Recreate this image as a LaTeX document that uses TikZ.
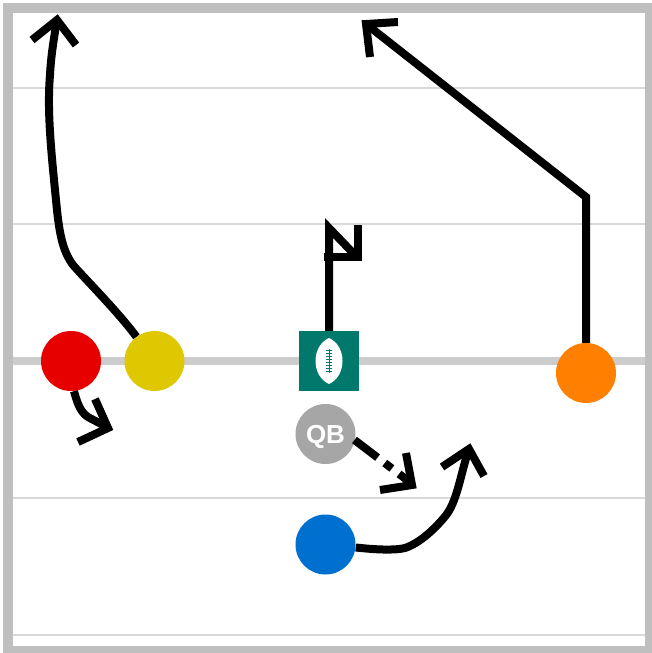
\documentclass[tikz,border=0pt]{standalone}
\usepackage{fontspec}
\setmainfont{Liberation Sans}
\definecolor{frameg}{HTML}{BFBFBF}
\definecolor{yardg}{HTML}{D9D9D9}
\definecolor{scrimg}{HTML}{CCCCCC}
\definecolor{teamteal}{HTML}{00786B}
\definecolor{qbgray}{HTML}{A6A6A6}
\definecolor{pred}{HTML}{E60000}
\definecolor{pyellow}{HTML}{E0C800}
\definecolor{porange}{HTML}{FF7F00}
\definecolor{pblue}{HTML}{0070D0}
\tikzset{
  player/.style={circle,minimum size=60pt,inner sep=0pt,fill=#1},
  route/.style={draw=black,line width=8pt,line join=miter,line cap=butt},
  head/.style={draw=black,line width=8pt,line join=miter,line cap=butt},
  yardline/.style={draw=yardg,line width=1.5pt},
}
\begin{document}
\begin{tikzpicture}[x=1pt,y=-1pt]
\useasboundingbox (0,0) rectangle (651,653);
\fill[white] (0,0) rectangle (651,653);
% yard lines
\foreach \yy in {88,224,498,635}{\draw[yardline] (10,\yy) -- (648,\yy);}
\draw[scrimg,line width=8pt] (10,361) -- (648,361);
% frame
\draw[frameg,line width=10pt] (8,8) rectangle (650,651);
% routes need to sit under the players
\node[player=pred] (red) at (71,361) {};
\node[player=pyellow] (yellow) at (154.5,361) {};
\node[player=porange] (orange) at (586,373) {};
\node[player=qbgray,font=\bfseries\fontsize{26}{26}\selectfont,text=white,text depth=0pt] (qb) at (325.5,434) {QB};
\node[player=pblue] (blue) at (325.5,544.5) {};
\node[minimum size=60pt,inner sep=0pt,fill=teamteal] (ball) at (329,361) {};
% football
\fill[white] (329,338) .. controls (347,346) and (347,376) .. (329,384) .. controls (311,376) and (311,346) .. (329,338) -- cycle;
\draw[teamteal,line width=1pt] (329,349) -- (329,373);
\foreach \yy in {350,353,...,373}{\draw[teamteal,line width=1pt] (326,\yy) -- (332,\yy);}
% named route points
\coordinate (ylTip) at (57,20);
\coordinate (orBreak) at (586,197);
\coordinate (orTip) at (366,24);
\coordinate (cTip) at (356,256);
\coordinate (qbTip) at (411,483);
\coordinate (blTip) at (469,449);
\coordinate (rdTip) at (108,428);
% routes
\draw[route] (yellow) .. controls (118,312) and (88,282) .. (73,265)
  .. controls (62,250) and (59,232) .. (56,200)
  .. controls (51,150) and (47,110) .. (50,75)
  .. controls (51,55) and (54,38) .. (ylTip);
\draw[route] (orange.north) -- (orBreak) -- (orTip);
\draw[route] (ball.north) -- (329,228) -- (cTip);
\path (qb) ++(29,6) coordinate (qbs);
\draw[route,dash pattern=on 29pt off 9pt on 9pt off 9pt on 20pt] (qbs) -- (qbTip);
\draw[route] (blue.east) ++(0,3) .. controls (370,549) and (392,551) .. (405,548)
  .. controls (420,543) and (436,528) .. (447,514)
  .. controls (458,498) and (461,472) .. (blTip);
\draw[route] (red.south) ++(3,0) .. controls (77,402) and (80,412) .. (88,417)
  .. controls (95,421) and (102,424) .. (rdTip);
% arrowheads
\draw[head] (32,40) -- (57,20) -- (76,45);
\draw[head] (398,22) -- (366,24) -- (370,57);
\draw[head] (358,225) -- (358,256.5) -- (324,256.5);
\draw[head] (406,453) -- (412,485) -- (380,490);
\draw[head] (442,467) -- (469,449) -- (484,476);
\draw[head] (95,399) -- (108,428) -- (78,442);
\end{tikzpicture}
\end{document}
